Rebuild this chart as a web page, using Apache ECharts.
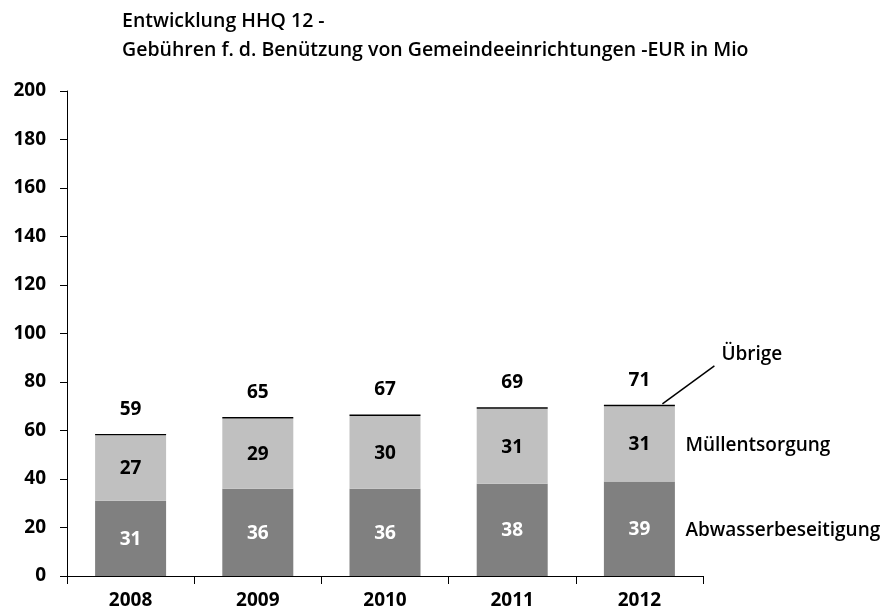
<!DOCTYPE html>
<html>
<head>
<meta charset="utf-8">
<script src="https://cdn.jsdelivr.net/npm/echarts@6/dist/echarts.min.js"></script>
<style>
  html, body { margin: 0; padding: 0; background: #fff; }
</style>
</head>
<body>
<div id="chart" style="width: 890px; height: 615px;"></div>
<script>
const years = ['2008', '2009', '2010', '2011', '2012']
const abwasser = [31, 36, 36, 38, 39]
const muell = [27, 29, 30, 31, 31]
const uebrige = [0.6, 0.6, 0.6, 0.6, 0.6]
const totals = [59, 65, 67, 69, 71]
const seriesNames = ['Abwasserbeseitigung', 'Müllentsorgung', 'Übrige']

const font = 'Open Sans'
const chart = echarts.init(document.getElementById('chart'))

let option = {
    animation: false,
    title: {
        text: 'Entwicklung HHQ 12 -\nGebühren f. d. Benützung von Gemeindeeinrichtungen -EUR in Mio',
        left: 117,
        top: 2,
        textStyle: {
            fontFamily: font,
            fontSize: 19.5,
            fontWeight: 600,
            color: '#000',
            lineHeight: 29
        }
    },
    grid: {
        left: 67,
        right: 187,
        top: 91,
        bottom: 39
    },
    xAxis: {
        type: 'category',
        data: years,
        axisLine: { lineStyle: { color: '#000', width: 1 } },
        axisTick: { show: true, length: 8, lineStyle: { color: '#000' } },
        axisLabel: {
            margin: 15,
            fontFamily: font,
            fontSize: 19,
            fontWeight: 'bold',
            color: '#000'
        }
    },
    yAxis: {
        type: 'value',
        min: 0,
        max: 200,
        interval: 20,
        splitLine: { show: false },
        axisLine: { show: true, lineStyle: { color: '#000', width: 1 } },
        axisTick: { show: true, length: 7, lineStyle: { color: '#000' } },
        axisLabel: {
            margin: 21,
            fontFamily: font,
            fontSize: 19,
            fontWeight: 'bold',
            color: '#000'
        }
    },
    series: [
        {
            name: seriesNames[0],
            type: 'bar',
            stack: 'total',
            barWidth: 71,
            data: abwasser,
            itemStyle: { color: '#808080' },
            label: {
                show: true,
                position: 'inside',
                offset: [0, 1],
                fontFamily: font,
                fontSize: 19,
                fontWeight: 'bold',
                color: '#fff'
            }
        },
        {
            name: seriesNames[1],
            type: 'bar',
            stack: 'total',
            data: muell,
            itemStyle: { color: '#c0c0c0' },
            label: {
                show: true,
                position: 'inside',
                offset: [0, 1],
                fontFamily: font,
                fontSize: 19,
                fontWeight: 'bold',
                color: '#000'
            }
        },
        {
            name: seriesNames[2],
            type: 'bar',
            stack: 'total',
            data: uebrige,
            itemStyle: { color: '#000' },
            label: {
                show: true,
                position: 'top',
                distance: 15,
                formatter: p => totals[p.dataIndex],
                fontFamily: font,
                fontSize: 19,
                fontWeight: 'bold',
                color: '#000'
            }
        }
    ]
}

chart.setOption(option)

// series names next to the last bar, placed from data
const last = years.length - 1
const pAbw = chart.convertToPixel({ seriesIndex: 0 }, [last, abwasser[last] / 2])
const pMuell = chart.convertToPixel({ seriesIndex: 0 }, [last, abwasser[last] + muell[last] / 2])
const pTop = chart.convertToPixel({ seriesIndex: 0 }, [last, abwasser[last] + muell[last] + uebrige[last]])
const nameStyle = {
    fontFamily: font,
    fontSize: 19,
    fontWeight: 600,
    fill: '#000',
    verticalAlign: 'middle',
    align: 'left'
}

chart.setOption({
    graphic: [
        { type: 'text', x: pAbw[0] + 46, y: pAbw[1] + 2, style: Object.assign({ text: seriesNames[0] }, nameStyle) },
        { type: 'text', x: pMuell[0] + 46, y: pMuell[1] + 2, style: Object.assign({ text: seriesNames[1] }, nameStyle) },
        {
            type: 'line',
            shape: { x1: pTop[0] + 23, y1: pTop[1] - 1, x2: pTop[0] + 75, y2: pTop[1] - 39 },
            style: { stroke: '#000', lineWidth: 1.5 }
        },
        { type: 'text', x: pTop[0] + 82, y: pTop[1] - 50, style: Object.assign({ text: seriesNames[2] }, nameStyle) }
    ]
})
</script>
</body>
</html>
